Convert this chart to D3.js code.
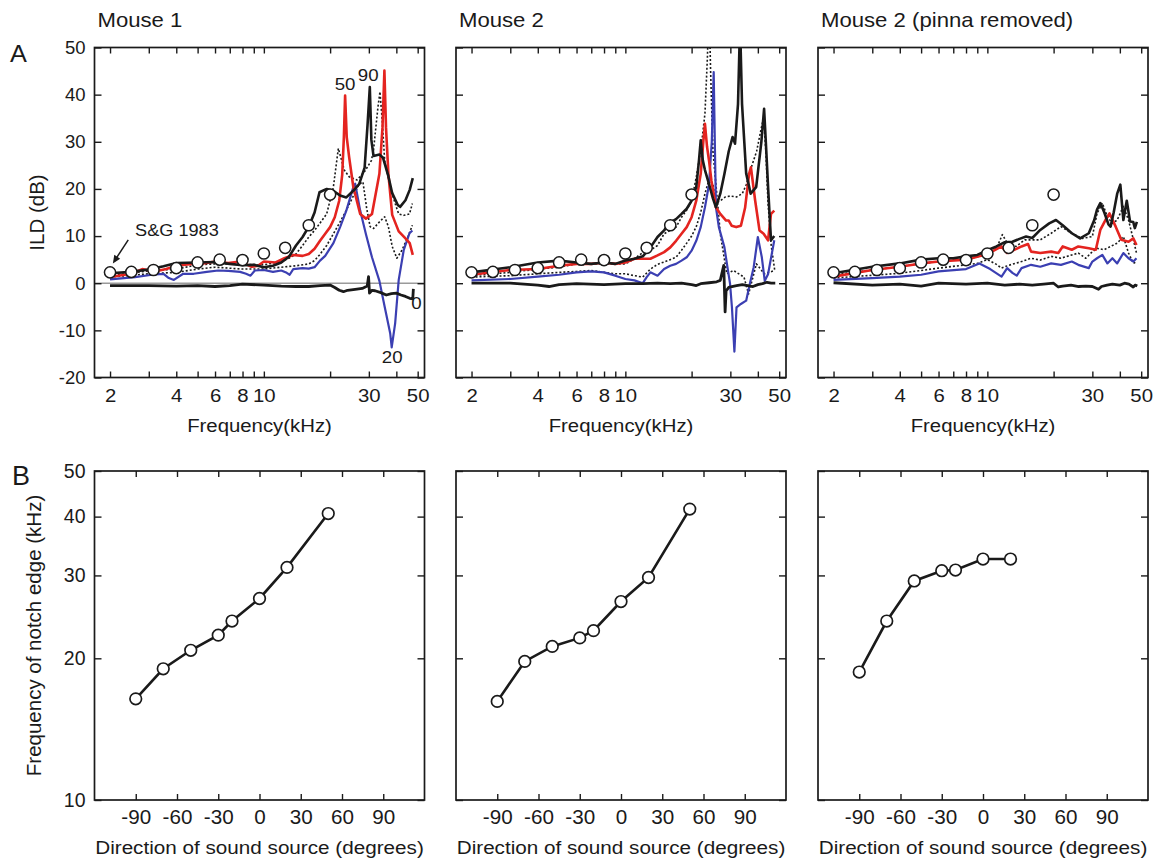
<!DOCTYPE html>
<html><head><meta charset="utf-8">
<script src="https://cdn.jsdelivr.net/npm/d3@7"></script>
<style>
body{margin:0;background:#fff}
svg{display:block}
text{font-family:"Liberation Sans",Arial,Helvetica,sans-serif;fill:#1a1a1a}
</style>
</head><body>
<svg id="c" width="1158" height="862"></svg>
<script>
// ---------------- DATA ----------------
const panelTitles = ["Mouse 1", "Mouse 2", "Mouse 2 (pinna removed)"];
const freqTicks = [2,3,4,5,6,7,8,9,10,20,30,40,50];
const freqLabels = [2,4,6,8,10,30,50];
const ildTicks = [-20,-10,0,10,20,30,40,50];
const dirTicks = [-90,-60,-30,0,30,60,90];
const notchTicks = [10,20,30,40,50];

// S&G 1983 reference ILDs (open circles)
const sgFreq = [2,2.5,3.15,4,5,6.3,8,10,12.5,16,20];
const sgILD  = [2.3,2.4,2.8,3.2,4.4,5.0,4.9,6.3,7.5,12.3,18.8];

// Mouse 1 ILD spectra  [kHz, dB]
const m1_az90 = [[2,2.1],[2.5,2.4],[3,2.9],[3.5,3.6],[4,4.3],[5,4.4],[6,4.5],[7,4.1],[8,3.8],[9,3.9],[10,3.4],[11,3.7],[12,4.4],[13,5.6],[14,8],[15,9.8],[16,12],[17,15],[17.9,19.3],[19.3,20],[20.7,19.6],[22.2,18.6],[23.7,18.2],[25.5,19.6],[27.1,21],[28.7,24.5],[29.6,33.7],[30.3,41.6],[30.8,30.4],[31.5,27],[33.5,27.3],[34.8,26.6],[36.8,22.7],[38.3,19.1],[40.6,16.6],[41.6,16.2],[44,17.6],[46,19.8],[47.5,22.3]];
const m1_az70 = [[2,1.6],[3,2.6],[4,3],[5,3.9],[6,4.1],[7,4.1],[8,4],[10,3.9],[12,4.6],[13,5.3],[14,6.2],[15,8],[16,9.8],[17,11.2],[17.9,12.6],[19.3,14.7],[20.7,20.4],[21.8,28.6],[23.2,24],[24.4,22.6],[26.5,21.9],[28.7,23.7],[30.8,26],[31.5,28.2],[33,37.4],[33.7,40.6],[34.5,34.6],[35.4,26],[37.5,20.4],[39.5,16.9],[41,14.7],[43.2,14.4],[45.9,14.7],[47.3,16.9]];
const m1_az50 = [[2,1.3],[2.5,2],[2.8,3],[3.2,2.5],[3.6,3],[4,3.7],[4.7,4.1],[5.3,4.2],[6,4.6],[6.9,4.3],[7.8,4.6],[8.8,3.5],[9.4,3.7],[10,4.6],[11.3,4.4],[12.4,5.3],[13.6,6],[15,5.8],[16,6.2],[17,7.3],[18,9],[19,10.5],[20,11.9],[21,14],[22,17.5],[22.7,23],[23.1,31],[23.4,39.8],[23.8,31],[24.4,26.8],[25.5,20.4],[27.4,14.7],[29.1,13.7],[31,14.7],[33.5,23.2],[34.6,33],[35.3,45.1],[35.9,33],[36.8,23.2],[38.3,14.5],[41,11],[44,9.5],[46,8.5],[47.5,6]];
const m1_az30 = [[2,1.3],[3,2],[4,2.3],[5,3],[6,3.4],[8,3],[10,3],[12,3.4],[14,3.7],[16,4.1],[17,4.8],[17.9,6],[19.3,8],[20.7,10.5],[22.2,13],[23.7,15.5],[25.5,18.5],[27.1,21],[28.2,21.5],[29.3,16],[30.4,12],[31.5,11.6],[33.5,13],[35.4,14.1],[36.8,12],[38.3,7.8],[40.2,5.3],[42.4,7],[45.2,9.9],[47.3,12.3]];
const m1_az20 = [[2,0.8],[2.6,1.3],[3.1,1.8],[3.5,2],[3.7,1.1],[3.9,0.7],[4.3,2],[4.8,2],[5.5,2.4],[6.2,2.7],[6.9,2.6],[7.8,2.4],[8.3,2],[8.7,1.6],[9.1,2.7],[10,2.8],[11,2.4],[12,2.7],[12.7,2.2],[13.1,1.8],[13.6,3],[15,3.2],[16,3.1],[17,3.4],[18,4.8],[19,5.8],[20.7,8.5],[22.2,11.9],[23.7,15.4],[25.5,20.4],[26,21.1],[27.4,15.4],[29.1,10.4],[31,5.5],[33.5,0.5],[35.4,-5],[37.5,-10.6],[38.1,-13.6],[39.5,-8.5],[41,0.7],[43.2,7],[45.9,10.6],[47.3,11.2]];
const m1_az0  = [[2,-0.5],[3,-0.5],[4,-0.6],[5,-0.5],[6,-0.7],[7,-0.5],[8,-0.2],[10,-0.4],[12,-0.6],[14,-0.7],[16,-0.7],[18,-0.5],[20,-0.4],[21,-0.9],[22,-1.5],[23,-1.8],[24,-1.5],[26,-1.3],[28,-1.1],[29.5,-0.6],[29.9,1.4],[30.2,-2.1],[31,-1.5],[32,-1.6],[34,-2],[36,-2.5],[38,-2.2],[40,-2.1],[42,-2.5],[44,-2.8],[46,-3.2],[47.5,-3.3],[47.8,-1.2]];

// Mouse 2 ILD spectra
const m2_az90 = [[2,2.3],[3,3.4],[4,4.4],[5,4.8],[6,4.4],[7,4.1],[8,4.4],[9,4.1],[10,4.8],[11,5.2],[12,5.7],[13,7.6],[14,9.8],[15,11.2],[16,12.9],[17,13.6],[18,14.7],[19,15.8],[20,17.5],[21,20.4],[21.6,26],[22,30.3],[22.5,26],[23,24],[24,21],[25,18],[25.8,16.1],[27,19],[28.2,23.2],[29.5,28],[30.7,31],[31.5,29.6],[32.5,38],[33.2,55],[33.9,38],[35.4,23.3],[37.1,19],[39.3,20.4],[41.5,30],[42.7,37],[43.7,28],[44.6,19.7],[45.9,9.1],[47.5,10]];
const m2_az70 = [[2,1.6],[3,2.3],[4,3],[5,3.4],[6,4.1],[8,4.1],[10,4.1],[11,5.2],[12,6.5],[12.5,8],[13,7],[14,8],[15,10.5],[16,11.2],[17,11.9],[18,14],[19,15.5],[20,17.5],[21,22.5],[22,28],[23,36],[23.6,48],[24,60],[24.4,45],[25,28],[25.8,21],[27,10.5],[28.9,2],[31,2.7],[34.6,1.3],[36.3,-2.3],[39.4,4.1],[42.8,2],[47.8,2.7]];
const m2_az50 = [[2,1.8],[3,2.8],[4,3],[5,3.7],[6,4.1],[7,4.1],[8,4.4],[9,4.1],[10,4.4],[11,5.2],[12,5.2],[13,5.2],[14,5.9],[15,6.6],[16,7.6],[17,9],[18,10.5],[19,11.9],[20,14],[21,17.5],[22,23.2],[22.6,30],[23,33.8],[23.5,29],[24,26],[24.6,21.8],[25.8,16.1],[27,14.7],[28.7,13.3],[29.5,13.3],[30.4,12.2],[31.9,11.9],[33.5,12.2],[35,16],[36.5,23.2],[37.2,24.6],[38.9,17.5],[40.7,11.2],[42.5,10.5],[44.5,9.1],[45.9,14.7],[47.5,15.4]];
const m2_az30 = [[2,1.3],[3,1.6],[4,2],[5,2.3],[6,2.5],[7,2.7],[8,2.3],[9,2],[10,2],[11,1.6],[12,1.3],[13,3],[14,4],[15,4.5],[16,5],[17,5.5],[18,7],[19,8.5],[20,10],[21,12],[22,15],[23,19],[24,22],[25,21],[25.8,17],[27,17.5],[28.5,18.3],[30,18.5],[32,18.3],[34,19],[35.5,21],[37,24],[39.5,28],[41.5,33],[42.5,35],[43.5,28],[44.5,17],[46,8],[47.8,2.5]];
const m2_az20 = [[2,0.6],[3,0.9],[4,1.4],[5,1.8],[6,2.3],[7,2.5],[8,2.3],[9,1.6],[10,0.9],[11,0.6],[12,0],[12.5,1.3],[13,2.3],[14,1.6],[15,3],[16,3.7],[17,4.1],[18,4.8],[19,5.5],[20,6.9],[21,9],[22,11.9],[23,16.1],[24,21],[24.7,30],[25.2,44.8],[25.5,30],[25.8,16.1],[26.6,11.9],[28.2,7.6],[29.1,3.4],[29.9,-0.1],[30.5,-5.1],[31.3,-14.5],[32,-5.1],[33.5,-4.4],[35.4,-3.7],[36.5,-0.8],[38.3,3.4],[40,9.8],[41.7,5.5],[43,0.5],[44.5,1.9],[47.5,9.1]];
const m2_az0  = [[2,0],[3,0],[4,-0.4],[4.5,-0.7],[5,-0.3],[6,-0.1],[8,-0.3],[10,-0.1],[12,-0.1],[14,0],[16,-0.1],[18,0],[20,-0.3],[21,-0.5],[22,-0.1],[24,0.1],[26,0.3],[27,0.6],[28,3.8],[28.4,-6.1],[28.7,-1.6],[29.5,-0.9],[30.5,-0.7],[32,-0.5],[34,-0.3],[36,-0.5],[38,-0.7],[40,-0.3],[42,-0.1],[44,0.2],[46,0],[48,0]];

// Mouse 2, pinna removed
const m3_az90 = [[2,2.1],[3,3.5],[4,4.2],[5,5],[6,5.3],[7,5.3],[8,5.7],[9,6],[10,7],[11,7.8],[12,8.7],[13,8.8],[14,9.4],[15,9.9],[16,9.6],[17.4,11.3],[19.1,12.7],[20.5,13.4],[22,12.3],[24.2,10.6],[26.4,9.5],[28.9,10.6],[30.6,13.4],[31.5,15.6],[32.6,17],[34,15],[35.5,12.5],[36.3,12],[37.5,15],[38.9,19],[40.2,20.9],[41.5,13.4],[43,17.5],[44.5,13.1],[46,13],[46.8,11.7],[47.8,13]];
const m3_az70 = [[2,1.8],[3,2.8],[4,3.5],[5,4.2],[6,4.6],[8,5.1],[10,6],[11,7.4],[11.7,10.3],[12.5,8],[13.5,7.8],[14.8,9.2],[17.4,9.2],[19.5,10.6],[21.6,12],[24.2,10.6],[27,9.5],[30,9.9],[31.5,14.8],[33.3,17],[35.1,14.1],[37,12.7],[38.9,13.4],[41.5,16.3],[43.8,13.4],[46.1,9.2],[47.6,6.4]];
const m3_az50 = [[2,1.4],[3,2.8],[4,3.5],[5,4.2],[6,4.6],[8,5],[10,6.2],[11.6,7.8],[12.3,6.4],[14.3,7.8],[15.3,8.3],[15.8,6.7],[17.4,6.4],[19.5,6.7],[21,6.4],[22,7.8],[24.2,7.1],[25.9,7.8],[28.9,7.4],[31.1,7.1],[32.6,11.3],[34.4,13.4],[35.9,14.8],[38.3,12],[40.6,9.2],[43.8,8.8],[46.1,9.5],[47.6,8.1]];
const m3_az30 = [[2,1.1],[4,2.1],[6,3.2],[8,3.9],[9,4.2],[10,5],[11,4],[11.6,3.2],[12.5,3.8],[14.3,4.6],[15.8,5.3],[17.4,4.9],[19.5,5.7],[21.6,5.3],[24.2,6],[25.9,6.4],[28,5.3],[30,6.7],[31.5,7.4],[33.9,7.1],[36.3,7.8],[38.9,8.5],[41.5,9.9],[43.8,6.4],[46.1,4.2],[47.6,4.6]];
const m3_az20 = [[2,0.7],[3,1.1],[4,1.4],[5,1.8],[6,2.5],[8,3],[9.2,4.2],[10.3,3],[11.6,1.4],[12.3,3.2],[13,2.2],[13.6,1.6],[14.3,3.2],[15.8,3.9],[17.4,3.5],[19.5,4.2],[21.6,3.9],[24.2,4.6],[25.9,3.9],[28.9,3.2],[30,4.6],[31.5,5.3],[33.3,6],[35.1,4.2],[37,5.3],[38.9,4.2],[41.5,6.4],[43.8,5.3],[46.1,4.6],[47.6,5.3]];
const m3_az0  = [[2,0.1],[3,-0.4],[4,-0.2],[5,-0.6],[6,0],[8,-0.2],[10,0],[12,-0.4],[14,-0.2],[16,-0.4],[18,-0.2],[20,0],[21,-0.8],[22,-0.6],[24,-0.4],[26,-0.7],[28,-0.6],[30,-0.7],[32,-1.3],[33,-0.7],[35,-0.4],[37,-0.2],[40,-0.4],[42,0],[44,-0.2],[46,-0.8],[47,-0.4],[48,-0.6]];

// Panel B: notch edge frequency vs direction
const directions  = [-90,-70,-50,-30,-20,0,20,50];
const notchM1     = [16.4,19.0,20.8,22.4,24.0,26.8,31.2,40.6];
const notchM2     = [16.2,19.7,21.2,22.1,22.9,26.4,29.7,41.5];
const directionsP = [-90,-70,-50,-30,-20,0,20];
const notchM2P    = [18.7,24.0,29.2,30.7,30.8,32.5,32.5];

// ---------------- DRAWING ----------------
const svg = d3.select("#c");
const PW = 330, AH = 330, BH = 329;
const AT = 47.5, BT = 471;
const lefts = [94.5, 456, 818];
const INK = "#1a1a1a";
const RED = "#e42420", BLUE = "#3b3fb2";
const hy = d => String(d);   // plain hyphen-minus like the original

function txt(g, x, y, s, size, anchor, sx) {
  return g.append("text")
    .attr("transform", `translate(${x},${y}) scale(${sx||1},1)`)
    .attr("font-size", size).attr("text-anchor", anchor || "start").text(s);
}
function vtxt(g, x, y, s, size) {
  return g.append("text")
    .attr("transform", `translate(${x},${y}) rotate(-90)`)
    .attr("font-size", size).attr("text-anchor", "middle")
    .attr("dominant-baseline", "central").text(s);
}
function styleAxis(a, fs, sx) {
  a.select(".domain").remove();
  a.selectAll(".tick line").attr("stroke", INK).attr("stroke-width", 1.4);
  a.selectAll(".tick text").attr("font-size", fs).attr("fill", INK)
    .attr("font-family", '"Liberation Sans",Arial,Helvetica,sans-serif');
  if (sx) a.selectAll(".tick text").attr("transform", `scale(${sx},1)`);
}

const curveSets = [
  [m1_az90, m1_az70, m1_az50, m1_az30, m1_az20, m1_az0],
  [m2_az90, m2_az70, m2_az50, m2_az30, m2_az20, m2_az0],
  [m3_az90, m3_az70, m3_az50, m3_az30, m3_az20, m3_az0]
];
const curveStyle = [
  {c: INK,  w: 2.6, d: null},   // 90
  {c: INK,  w: 1.6, d: "2,2"},  // dotted
  {c: RED,  w: 2.6, d: null},   // 50
  {c: INK,  w: 1.6, d: "2,2"},  // dotted
  {c: BLUE, w: 2.2, d: null},   // 20
  {c: INK,  w: 2.8, d: null}    // 0
];
const drawOrder = [3, 1, 4, 2, 0, 5];

// ---- Row A ----
lefts.forEach((x0, i) => {
  const g = svg.append("g").attr("transform", `translate(${x0},${AT})`);
  const x = d3.scaleLog().domain([1.7, 53.7]).range([0, PW]);
  const y = d3.scaleLinear().domain([-20, 50]).range([AH, 0]);
  const cid = "clipA" + i;
  g.append("clipPath").attr("id", cid).append("rect")
    .attr("x", 0).attr("y", 0).attr("width", PW).attr("height", AH);
  const plot = g.append("g").attr("clip-path", `url(#${cid})`);
  if (i === 0) {
    plot.append("line").attr("x1", 0).attr("x2", PW)
      .attr("y1", y(0)).attr("y2", y(0))
      .attr("stroke", "#9a9a9a").attr("stroke-width", 1.6);
  }
  const line = d3.line().x(d => x(d[0])).y(d => y(d[1]));
  drawOrder.forEach(k => {
    const st = curveStyle[k];
    plot.append("path").datum(curveSets[i][k]).attr("d", line)
      .attr("fill", "none").attr("stroke", st.c).attr("stroke-width", st.w)
      .attr("stroke-dasharray", st.d).attr("stroke-linejoin", "round");
  });
  plot.selectAll("circle.sg").data(sgFreq).join("circle").attr("class", "sg")
    .attr("cx", d => x(d)).attr("cy", (d, j) => y(sgILD[j])).attr("r", 5.6)
    .attr("fill", "#fff").attr("stroke", INK).attr("stroke-width", 1.5);

  // frame & axes
  g.append("rect").attr("width", PW).attr("height", AH)
    .attr("fill", "none").attr("stroke", INK).attr("stroke-width", 1.7);
  const ab = g.append("g").attr("transform", `translate(0,${AH})`)
    .call(d3.axisBottom(x).tickValues(freqTicks).tickSize(-6).tickPadding(11)
      .tickFormat(d => freqLabels.includes(d) ? hy(d) : ""));
  styleAxis(ab, 18.5, 1.1);
  const at = g.append("g").call(d3.axisTop(x).tickValues(freqTicks).tickSize(-6).tickFormat(""));
  styleAxis(at, 10);
  const al = g.append("g").call(d3.axisLeft(y).tickValues(ildTicks).tickSize(-7).tickPadding(9)
      .tickFormat(i === 0 ? hy : ""));
  styleAxis(al, 18.5);
  const ar = g.append("g").attr("transform", `translate(${PW},0)`)
    .call(d3.axisRight(y).tickValues(ildTicks).tickSize(-7).tickFormat(""));
  styleAxis(ar, 10);

  txt(g, 3, 27 - AT, panelTitles[i], 20.5, "start", 1.08);
  txt(g, PW / 2, 432 - AT, "Frequency(kHz)", 18.5, "middle", 1.1);

  if (i === 0) {
    vtxt(g, 36 - x0, AH / 2, "ILD (dB)", 20.5);
    txt(g, x(23.4), y(40.9), "50", 17, "middle", 1.1);
    txt(g, x(29.8), y(42.8), "90", 17, "middle", 1.1);
    txt(g, x(49.4), y(-5.4), "0", 17, "middle", 1.1);
    txt(g, x(38.3), y(-17), "20", 17, "middle", 1.1);
    txt(g, x(2.6), y(10.1), "S&G 1983", 16.5, "start", 1.1);
    // arrow
    const ax1 = x(2.42), ay1 = y(9.2), ax2 = x(2.06), ay2 = y(4.2);
    const ang = Math.atan2(ay2 - ay1, ax2 - ax1);
    g.append("line").attr("x1", ax1).attr("y1", ay1)
      .attr("x2", ax2 - 6 * Math.cos(ang)).attr("y2", ay2 - 6 * Math.sin(ang))
      .attr("stroke", INK).attr("stroke-width", 1.5);
    const hl = 8, hw = 3.5;
    const bx = ax2 - hl * Math.cos(ang), by = ay2 - hl * Math.sin(ang);
    g.append("path").attr("d",
      `M${ax2},${ay2}L${bx + hw * Math.sin(ang)},${by - hw * Math.cos(ang)}L${bx - hw * Math.sin(ang)},${by + hw * Math.cos(ang)}Z`)
      .attr("fill", INK);
  }
});

// ---- Row B ----
const bSets = [[directions, notchM1], [directions, notchM2], [directionsP, notchM2P]];
lefts.forEach((x0, i) => {
  const g = svg.append("g").attr("transform", `translate(${x0},${BT})`);
  const x = d3.scaleLinear().domain([-120, 120]).range([0, PW]);
  const y = d3.scaleLog().domain([10, 50]).range([BH, 0]);
  const [dx, dy] = bSets[i];
  const pts = dx.map((d, j) => [d, dy[j]]);
  g.append("path").datum(pts)
    .attr("d", d3.line().x(d => x(d[0])).y(d => y(d[1])))
    .attr("fill", "none").attr("stroke", INK).attr("stroke-width", 2.6);
  g.selectAll("circle.pt").data(pts).join("circle").attr("class", "pt")
    .attr("cx", d => x(d[0])).attr("cy", d => y(d[1])).attr("r", 5.8)
    .attr("fill", "#fff").attr("stroke", INK).attr("stroke-width", 1.7);

  g.append("rect").attr("width", PW).attr("height", BH)
    .attr("fill", "none").attr("stroke", INK).attr("stroke-width", 1.7);
  const ab = g.append("g").attr("transform", `translate(0,${BH})`)
    .call(d3.axisBottom(x).tickValues(dirTicks).tickSize(-6).tickPadding(10).tickFormat(hy));
  styleAxis(ab, 19.5, 1.06);
  const at = g.append("g").call(d3.axisTop(x).tickValues(dirTicks).tickSize(-6).tickFormat(""));
  styleAxis(at, 10);
  const al = g.append("g").call(d3.axisLeft(y).tickValues(notchTicks).tickSize(-7).tickPadding(9)
      .tickFormat(i === 0 ? hy : ""));
  styleAxis(al, 19.5);
  const ar = g.append("g").attr("transform", `translate(${PW},0)`)
    .call(d3.axisRight(y).tickValues(notchTicks).tickSize(-7).tickFormat(""));
  styleAxis(ar, 10);

  txt(g, PW / 2, 854 - BT, "Direction of sound source (degrees)", 18.8, "middle", 1.1);
  if (i === 0) vtxt(g, 33 - x0, BH / 2, "Frequency of notch edge (kHz)", 20.5);
});

// panel letters
txt(svg, 10, 62, "A", 23, "start", 1.1);
txt(svg, 12, 485, "B", 27, "start", 1.0);
</script>
</body></html>
